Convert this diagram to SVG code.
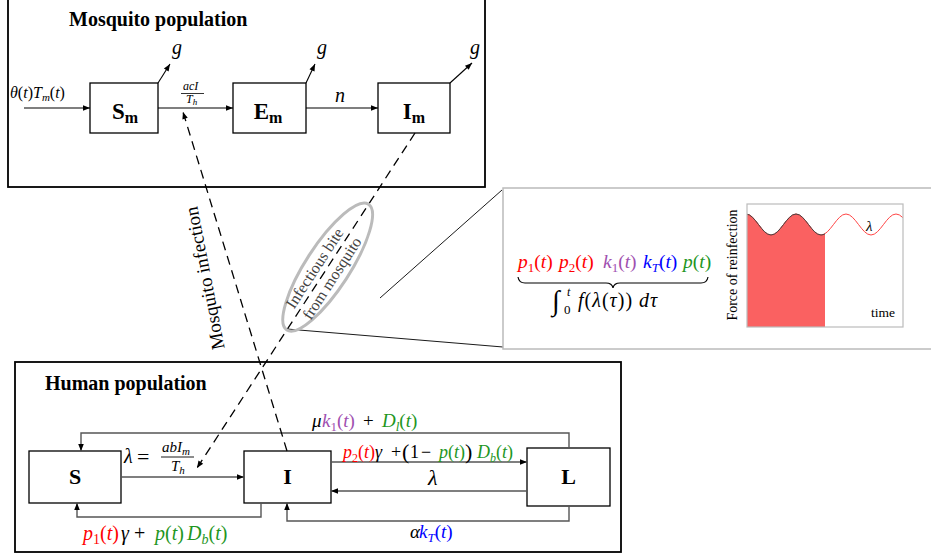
<svg xmlns="http://www.w3.org/2000/svg" width="931" height="554" viewBox="0 0 931 554">
<defs>
<style>
.t{font-family:"Liberation Serif",serif;fill:#000}
.i{font-style:italic}
.b{font-weight:bold}
.box{fill:#fff;stroke:#000;stroke-width:1.3}
.frame{fill:none;stroke:#000;stroke-width:1.8}
.a{fill:none;stroke:#000;stroke-width:1.1}
.ag{fill:none;stroke:#555;stroke-width:1.4}
.d{fill:none;stroke:#000;stroke-width:1.3;stroke-dasharray:9 6}
.z{fill:none;stroke:#000;stroke-width:0.9}
.red{fill:#f00}.pur{fill:#a050b0}.grn{fill:#1e961e}.blu{fill:#0000ff}
</style>
<marker id="ah" viewBox="0 0 10 10" refX="10" refY="5" markerWidth="8" markerHeight="7" markerUnits="userSpaceOnUse" orient="auto"><path d="M0,1 L10,5 L0,9 z" fill="#000"/></marker>
<clipPath id="gc"><rect x="747" y="204" width="156" height="123"/></clipPath>
</defs>
<rect width="931" height="554" fill="#fff"/>

<g id="mosquito-frame">
<rect class="frame" x="8" y="-5" width="477" height="192"/>
<text class="t b" x="69" y="26" font-size="20">Mosquito population</text>
</g>
<g id="human-frame">
<rect class="frame" x="15" y="362" width="606" height="190"/>
<text class="t b" x="45" y="390" font-size="20">Human population</text>
</g>

<g id="node-Sm"><rect class="box" x="90" y="83" width="68" height="50"/><text class="t b" x="125" y="119" text-anchor="middle" font-size="23">S<tspan font-size="16" dy="4">m</tspan></text></g>
<g id="node-Em"><rect class="box" x="233" y="83" width="73" height="50"/><text class="t b" x="268" y="119" text-anchor="middle" font-size="23">E<tspan font-size="16" dy="4">m</tspan></text></g>
<g id="node-Im"><rect class="box" x="378" y="83" width="72" height="50"/><text class="t b" x="414" y="119" text-anchor="middle" font-size="23">I<tspan font-size="16" dy="4">m</tspan></text></g>

<g id="node-S"><rect class="box" x="29" y="451" width="92" height="52"/><text class="t b" x="75" y="484" text-anchor="middle" font-size="22">S</text></g>
<g id="node-I"><rect class="box" x="244" y="451" width="87" height="52"/><text class="t b" x="287.5" y="484" text-anchor="middle" font-size="22">I</text></g>
<g id="node-L"><rect class="box" x="527" y="448" width="83" height="58"/><text class="t b" x="568.5" y="484" text-anchor="middle" font-size="22">L</text></g>

<g id="connectors">
<path class="a" d="M24,108 L90,108" marker-end="url(#ah)"/>
<path class="a" d="M158,108 L233,108" marker-end="url(#ah)"/>
<path class="a" d="M306,108 L378,108" marker-end="url(#ah)"/>
<path class="a" d="M158,83 L170,64" marker-end="url(#ah)"/>
<path class="a" d="M306,83 L315,64" marker-end="url(#ah)"/>
<path class="a" d="M450,83 L472,63" marker-end="url(#ah)"/>
<path class="ag" d="M121,477 L244,477" marker-end="url(#ah)"/>
<path class="ag" d="M569,448 V433 H81 V451" marker-end="url(#ah)"/>
<path class="ag" d="M331,462 H527" marker-end="url(#ah)"/>
<path class="ag" d="M527,491 H331" marker-end="url(#ah)"/>
<path class="ag" d="M261,503 V517 H77 V503" marker-end="url(#ah)"/>
<path class="ag" d="M569,506 V521 H287 V503" marker-end="url(#ah)"/>
<path class="d" d="M287,451 L183,112" marker-end="url(#ah)"/>
<path class="d" d="M415,133 L197,468" marker-end="url(#ah)"/>
<path class="z" d="M287,329 L503,347"/>
<path class="z" d="M380,298 L502,190"/>
</g>

<g id="mosquito-labels">
<text class="t" x="10" y="98" font-size="16"><tspan class="i">θ</tspan>(<tspan class="i">t</tspan>)<tspan class="i">T</tspan><tspan class="i" font-size="11" dy="3">m</tspan><tspan dy="-3">(</tspan><tspan class="i">t</tspan>)</text>
<text class="t i" x="183" y="90" font-size="12">acI</text>
<path d="M181,93.5 L204,93.5" stroke="#000" stroke-width="0.8"/>
<text class="t i" x="186" y="103" font-size="12">T<tspan font-size="9" dy="2">h</tspan></text>
<text class="t i" x="335" y="102" font-size="20">n</text>
<text class="t i" x="172" y="54" font-size="20">g</text>
<text class="t i" x="317" y="54" font-size="20">g</text>
<text class="t i" x="470" y="54" font-size="20">g</text>
</g>

<g id="infection-labels">
<text class="t" transform="translate(211,277) rotate(-101)" text-anchor="middle" font-size="19">Mosquito infection</text>
<g transform="translate(326,266) rotate(-57)">
<ellipse cx="0" cy="2" rx="75" ry="22" fill="none" stroke="#bbb" stroke-width="3"/>
<text class="t" x="-8" y="-3" text-anchor="middle" font-size="16" style="fill:#444">Infectious bite</text>
<text class="t" x="-7" y="17" text-anchor="middle" font-size="16" style="fill:#444">from mosquito</text>
</g>
</g>

<g id="human-labels">
<text class="t" y="427" font-size="19"><tspan x="312" class="i">μ</tspan><tspan x="322" class="i pur">k</tspan><tspan class="pur" font-size="13" dy="4">1</tspan><tspan class="pur" dy="-4">(</tspan><tspan class="i pur">t</tspan><tspan class="pur">)</tspan><tspan x="363">+</tspan><tspan x="382" class="i grn">D</tspan><tspan class="i grn" font-size="13" dy="4">l</tspan><tspan class="grn" dy="-4">(</tspan><tspan class="i grn">t</tspan><tspan class="grn">)</tspan></text>
<text class="t" y="458" font-size="18"><tspan x="343" class="i red">p</tspan><tspan class="red" font-size="12" dy="4">2</tspan><tspan class="red" dy="-4">(</tspan><tspan class="i red">t</tspan><tspan class="red">)</tspan><tspan class="i">γ</tspan><tspan x="391">+</tspan><tspan x="402" font-size="22" dy="1">(</tspan><tspan x="410" dy="-1">1</tspan><tspan x="421">−</tspan><tspan x="439" class="i grn">p</tspan><tspan class="grn">(</tspan><tspan class="i grn">t</tspan><tspan class="grn">)</tspan><tspan x="465" font-size="22" dy="1">)</tspan><tspan x="477" class="i grn" dy="-1">D</tspan><tspan class="i grn" font-size="12" dy="4">b</tspan><tspan class="grn" dy="-4">(</tspan><tspan class="i grn">t</tspan><tspan class="grn">)</tspan></text>
<text class="t i" x="428" y="485" font-size="22">λ</text>
<text class="t" y="540" font-size="20"><tspan x="83" class="i red">p</tspan><tspan class="red" font-size="14" dy="4">1</tspan><tspan class="red" dy="-4">(</tspan><tspan class="i red">t</tspan><tspan class="red">)</tspan><tspan x="121" class="i">γ</tspan><tspan x="134">+</tspan><tspan x="155" class="i grn">p</tspan><tspan class="grn">(</tspan><tspan class="i grn">t</tspan><tspan class="grn">)</tspan><tspan x="187" class="i grn">D</tspan><tspan class="i grn" font-size="14" dy="4">b</tspan><tspan class="grn" dy="-4">(</tspan><tspan class="i grn">t</tspan><tspan class="grn">)</tspan></text>
<text class="t" y="538" font-size="19"><tspan x="410" class="i">α</tspan><tspan x="419" class="i blu">k</tspan><tspan class="i blu" font-size="13" dy="4">T</tspan><tspan class="blu" dy="-4">(</tspan><tspan class="i blu">t</tspan><tspan class="blu">)</tspan></text>
<text class="t i" x="124" y="463" font-size="20">λ</text>
<text class="t" x="137" y="464" font-size="22">=</text>
<text class="t i" x="162" y="452" font-size="15">abI<tspan font-size="11" dy="3">m</tspan></text>
<path d="M161,457 L194,457" stroke="#000" stroke-width="0.9"/>
<text class="t i" x="171" y="471" font-size="15">T<tspan font-size="11" dy="3">h</tspan></text>
</g>

<g id="panel">
<rect x="503" y="188" width="440" height="161" fill="none" stroke="#bbb" stroke-width="1.5"/>
<text class="t" y="268" font-size="19.5"><tspan x="518" class="i red">p</tspan><tspan class="red" font-size="13" dy="4">1</tspan><tspan class="red" dy="-4">(</tspan><tspan class="i red">t</tspan><tspan class="red">)</tspan><tspan x="559" class="i red">p</tspan><tspan class="red" font-size="13" dy="4">2</tspan><tspan class="red" dy="-4">(</tspan><tspan class="i red">t</tspan><tspan class="red">)</tspan><tspan x="603" class="i pur">k</tspan><tspan class="pur" font-size="13" dy="4">1</tspan><tspan class="pur" dy="-4">(</tspan><tspan class="i pur">t</tspan><tspan class="pur">)</tspan><tspan x="643" class="i blu">k</tspan><tspan class="i blu" font-size="13" dy="4">T</tspan><tspan class="blu" dy="-4">(</tspan><tspan class="i blu">t</tspan><tspan class="blu">)</tspan><tspan x="683" class="i grn">p</tspan><tspan class="grn">(</tspan><tspan class="i grn">t</tspan><tspan class="grn">)</tspan></text>
<path d="M518,277 Q519,283 525,283 L606,283 Q612,283 613,288 Q614,283 620,283 L701,283 Q707,283 708,277" fill="none" stroke="#000" stroke-width="1.2"/>
<text class="t i" x="552" y="310" font-size="28">∫</text>
<text class="t i" x="567" y="296" font-size="12">t</text>
<text class="t" x="564" y="314" font-size="13">0</text>
<text class="t" x="578" y="307" font-size="20" letter-spacing="1"><tspan class="i">f</tspan>(<tspan class="i">λ</tspan>(<tspan class="i">τ</tspan>)) <tspan class="i">dτ</tspan></text>
<path d="M747,327 L747,214 C755.1,214 761.9,235 771,235 C780.1,235 786.9,214 796,214 C805.1,214 811.9,235 821,235 C822.5,235 823.8,234.5 825,233.8 L825,327 Z" fill="#fa6161"/>
<path clip-path="url(#gc)" d="M746,214 C755.1,214 761.9,235 771,235 C780.1,235 786.9,214 796,214 C805.1,214 811.9,235 821,235 C830.1,235 836.9,214 846,214 C855.1,214 861.9,235 871,235 C880.1,235 886.9,214 896,214 C905.1,214 911.9,235 921,235" fill="none" stroke="#f44" stroke-width="1"/>
<path clip-path="url(#gc)" d="M746,214 C755.1,214 761.9,235 771,235 C780.1,235 786.9,214 796,214 C805.1,214 811.9,235 821,235 C822.5,235 823.8,234.5 825,233.8" fill="none" stroke="#444" stroke-width="1"/>
<rect x="747" y="204" width="156" height="123" fill="none" stroke="#bbb" stroke-width="1.2"/>
<text class="t i" x="866" y="231" font-size="15">λ</text>
<text class="t" x="871" y="317" font-size="13.5">time</text>
<text class="t" transform="translate(737,265) rotate(-90)" text-anchor="middle" font-size="14">Force of reinfection</text>
</g>
</svg>
